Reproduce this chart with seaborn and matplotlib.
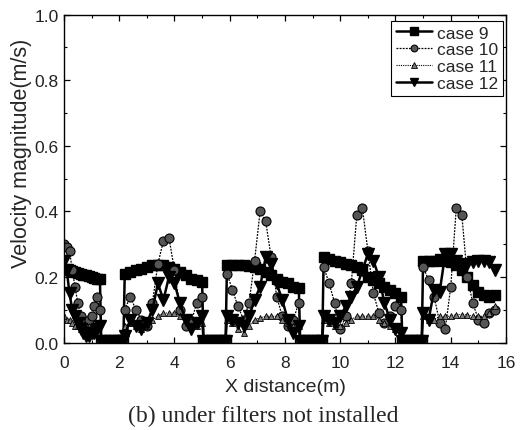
import numpy as np
import pandas as pd
import matplotlib
matplotlib.use("Agg")
import matplotlib.pyplot as plt
import seaborn as sns

# ---------------- data ----------------
seg1_x = [0.0, 0.1, 0.2, 0.3, 0.4, 0.5, 0.6, 0.7, 0.8, 0.9, 1.0, 1.1, 1.2, 1.3]
gap1_x = [1.35, 1.5, 1.65, 1.8, 1.95, 2.1, 2.15]
seg2_x = [2.2, 2.4, 2.6, 2.8, 3.0, 3.2, 3.4, 3.6, 3.8, 4.0, 4.2, 4.4, 4.6, 4.8, 5.0]
gap2_x = [5.05, 5.2, 5.35, 5.5, 5.65, 5.8, 5.85]
seg3_x = [5.9, 6.1, 6.3, 6.5, 6.7, 6.9, 7.1, 7.3, 7.5, 7.7, 7.9, 8.1, 8.3, 8.5]
gap3_x = [8.55, 8.7, 8.85, 9.0, 9.15, 9.3, 9.35]
seg4_x = [9.4, 9.6, 9.8, 10.0, 10.2, 10.4, 10.6, 10.8, 11.0, 11.2, 11.4, 11.6, 11.8, 12.0, 12.2]
gap4_x = [12.25, 12.4, 12.55, 12.7, 12.85, 12.95]
seg5_x = [13.0, 13.2, 13.4, 13.6, 13.8, 14.0, 14.2, 14.4, 14.6, 14.8, 15.0, 15.2, 15.4, 15.6]

gap_value = 0.006

case9 = {
    1: [0.225, 0.222, 0.22, 0.218, 0.215, 0.212, 0.21, 0.207, 0.205, 0.202, 0.2, 0.197, 0.195, 0.195],
    2: [0.21, 0.215, 0.22, 0.225, 0.23, 0.235, 0.235, 0.235, 0.23, 0.225, 0.215, 0.205, 0.195, 0.19, 0.185],
    3: [0.235, 0.235, 0.235, 0.235, 0.232, 0.23, 0.225, 0.215, 0.205, 0.195, 0.185, 0.18, 0.17, 0.165],
    4: [0.26, 0.255, 0.25, 0.245, 0.24, 0.235, 0.23, 0.22, 0.2, 0.19, 0.18, 0.17, 0.16, 0.15, 0.14],
    5: [0.25, 0.25, 0.25, 0.255, 0.25, 0.245, 0.235, 0.22, 0.2, 0.175, 0.155, 0.145, 0.14, 0.145],
}
case10 = {
    1: [0.3, 0.29, 0.28, 0.22, 0.17, 0.12, 0.08, 0.06, 0.05, 0.07, 0.08, 0.11, 0.14, 0.1],
    2: [0.1, 0.14, 0.1, 0.07, 0.05, 0.12, 0.24, 0.31, 0.32, 0.22, 0.1, 0.05, 0.06, 0.12, 0.14],
    3: [0.21, 0.16, 0.11, 0.07, 0.12, 0.25, 0.4, 0.37, 0.26, 0.14, 0.08, 0.05, 0.07, 0.12],
    4: [0.23, 0.18, 0.12, 0.04, 0.08, 0.18, 0.39, 0.41, 0.28, 0.15, 0.09, 0.06, 0.08, 0.11, 0.1],
    5: [0.23, 0.19, 0.14, 0.06, 0.04, 0.17, 0.41, 0.39, 0.2, 0.12, 0.07, 0.06, 0.09, 0.1],
}
case11 = {
    1: [0.08, 0.07, 0.07, 0.06, 0.05, 0.05, 0.04, 0.04, 0.04, 0.05, 0.05, 0.06, 0.06, 0.06],
    2: [0.05, 0.06, 0.05, 0.04, 0.05, 0.07, 0.08, 0.09, 0.09, 0.09, 0.08, 0.07, 0.05, 0.05, 0.06],
    3: [0.07, 0.06, 0.04, 0.03, 0.05, 0.07, 0.075, 0.08, 0.08, 0.08, 0.07, 0.06, 0.05, 0.05],
    4: [0.07, 0.06, 0.05, 0.05, 0.06, 0.07, 0.08, 0.08, 0.08, 0.08, 0.07, 0.06, 0.05, 0.04, 0.04],
    5: [0.08, 0.07, 0.07, 0.08, 0.08, 0.08, 0.085, 0.085, 0.085, 0.08, 0.08, 0.08, 0.09, 0.11],
}
case12 = {
    1: [0.25, 0.22, 0.15, 0.1, 0.08, 0.06, 0.04, 0.03, 0.02, 0.02, 0.03, 0.03, 0.04, 0.05],
    2: [0.02, 0.07, 0.05, 0.04, 0.06, 0.1, 0.18, 0.13, 0.2, 0.18, 0.12, 0.07, 0.04, 0.06, 0.08],
    3: [0.08, 0.07, 0.06, 0.05, 0.08, 0.13, 0.17, 0.26, 0.24, 0.18, 0.13, 0.07, 0.03, 0.05],
    4: [0.08, 0.07, 0.06, 0.08, 0.11, 0.14, 0.17, 0.22, 0.27, 0.25, 0.2, 0.12, 0.07, 0.04, 0.03],
    5: [0.09, 0.07, 0.16, 0.155, 0.27, 0.27, 0.25, 0.235, 0.24, 0.245, 0.25, 0.25, 0.245, 0.22],
}

labels = ["case 9", "case 10", "case 11", "case 12"]
series = [case9, case10, case11, case12]
seg_x = [seg1_x, seg2_x, seg3_x, seg4_x, seg5_x]
gap_x = [gap1_x, gap2_x, gap3_x, gap4_x, []]

x_ticks = [0, 2, 4, 6, 8, 10, 12, 14, 16]
y_ticks = [0.0, 0.2, 0.4, 0.6, 0.8, 1.0]

rows = []
for lab, ser in zip(labels, series):
    for k in range(5):
        for xv, yv in zip(seg_x[k], ser[k + 1]):
            rows.append((lab, xv, yv))
        for xv in gap_x[k]:
            rows.append((lab, xv, gap_value))
df = pd.DataFrame(rows, columns=["case", "x", "v"])

# ---------------- style ----------------
sns.set_style("ticks")
plt.rcParams["font.family"] = ["Liberation Sans", "DejaVu Sans"]
plt.rcParams["xtick.direction"] = "in"
plt.rcParams["ytick.direction"] = "in"

fig = plt.figure(figsize=(5.21, 4.31), dpi=100)
ax = fig.add_axes([0.1228, 0.203, 0.8484, 0.761])

styles = {
    "case 9": dict(ls="-", lw=1.8, marker="s", ms=7, mfc="black", mec="black", mew=1.0),
    "case 10": dict(ls=(0, (1.5, 1)), lw=0.9, marker="o", ms=6.5, mfc="#555555", mec="black", mew=0.8),
    "case 11": dict(ls=(0, (1, 1)), lw=0.8, marker="^", ms=5, mfc="#7a7a7a", mec="black", mew=0.6),
    "case 12": dict(ls="-", lw=1.8, marker="v", ms=8, mfc="black", mec="black", mew=1.0),
}

for lab in labels:
    st = styles[lab]
    sub = df[df["case"] == lab]
    sns.lineplot(data=sub, x="x", y="v", ax=ax, sort=False, estimator=None,
                 color="black", linestyle=st["ls"], linewidth=st["lw"],
                 marker=st["marker"], markersize=st["ms"],
                 markerfacecolor=st["mfc"], markeredgecolor=st["mec"],
                 markeredgewidth=st["mew"], label=lab)

ax.set_xlim(0, 16)
ax.set_ylim(0, 1.0)
ax.set_xticks(x_ticks)
ax.set_yticks(y_ticks)
ax.set_xticks([1, 3, 5, 7, 9, 11, 13, 15], minor=True)
ax.set_yticks([0.1, 0.3, 0.5, 0.7, 0.9], minor=True)
ax.set_yticklabels([f"{t:.1f}" for t in y_ticks], fontsize=12.5, color="#222222")
ax.set_xticklabels([str(t) for t in x_ticks], fontsize=12.5, color="#222222")
ax.tick_params(which="both", direction="in", top=True, right=True, color="black")
ax.tick_params(which="major", length=4, width=0.9)
ax.tick_params(axis="x", which="major", pad=9)
ax.tick_params(axis="y", which="major", pad=4)
ax.tick_params(which="minor", length=2.5, width=0.8)
for sp in ax.spines.values():
    sp.set_visible(True)
    sp.set_color("black")
    sp.set_linewidth(1.0)

ax.set_xlabel("X distance(m)", fontsize=14, labelpad=6)
ax.set_ylabel("Velocity magnitude(m/s)", fontsize=15.5)
ax.yaxis.set_label_coords(-0.072, 0.58)

leg = ax.legend(loc="upper right", bbox_to_anchor=(0.993, 0.98), frameon=True,
                fancybox=False, edgecolor="black", fontsize=12.5, handlelength=2.1,
                handletextpad=0.3, borderpad=0.25, labelspacing=0.1,
                borderaxespad=0.0, framealpha=1, markerscale=0.75)
leg.get_frame().set_linewidth(0.8)

fig.text(0.505, 0.033, "(b) under filters not installed", ha="center", va="center",
         fontsize=17, family=["Liberation Serif", "DejaVu Serif"])

fig.savefig("out.png", dpi=100)
